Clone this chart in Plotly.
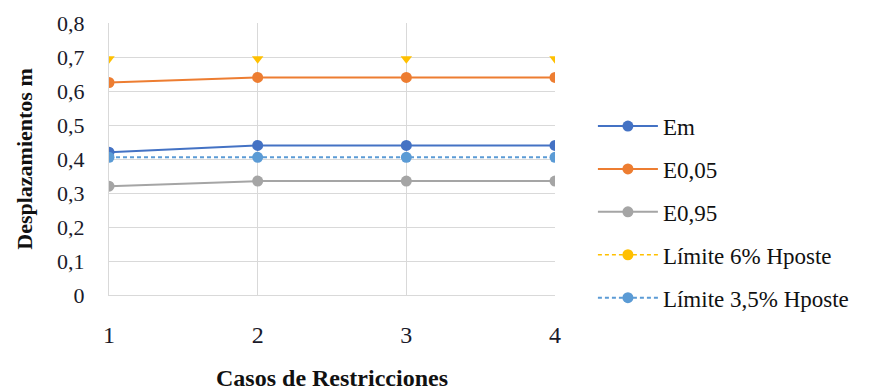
import plotly.graph_objects as go

# Restriction cases on the x axis
casos = [1, 2, 3, 4]

# Displacements (m) for each modulus of elasticity
em = [0.42, 0.44, 0.44, 0.44]
e005 = [0.625, 0.64, 0.64, 0.64]
e095 = [0.32, 0.335, 0.335, 0.335]

# Allowed limits as a percentage of post height
limite_6 = [0.695, 0.695, 0.695, 0.695]
limite_35 = [0.405, 0.405, 0.405, 0.405]

y_ticks = [0, 0.1, 0.2, 0.3, 0.4, 0.5, 0.6, 0.7, 0.8]
y_tick_text = ["0", "0,1", "0,2", "0,3", "0,4", "0,5", "0,6", "0,7", "0,8"]

FONT = "Liberation Serif"
GRID = "#d9d9d9"
TEXT = "#1a1a2a"

fig = go.Figure()


def series(name, y, color, dash="solid", group=None):
    fig.add_trace(go.Scatter(
        x=casos, y=y, name=name, mode="lines+markers",
        line=dict(color=color, width=2, dash=dash),
        marker=dict(color=color, size=11, symbol="circle"),
        legendgroup=group or name,
    ))


series("Em", em, "#4472C4")
series("E0,05", e005, "#ED7D31")
series("E0,95", e095, "#A5A5A5")

# 6% limit: only the lower edge of its markers shows on the plot
fig.add_trace(go.Scatter(
    x=casos, y=limite_6, mode="markers", showlegend=False,
    marker=dict(color="#FFC000", size=10, symbol="triangle-down"),
    legendgroup="l6", hoverinfo="y",
))
fig.add_trace(go.Scatter(
    x=[None], y=[None], name="Límite 6% Hposte", mode="lines+markers",
    line=dict(color="#FFC000", width=1.5, dash="4px,3px"),
    marker=dict(color="#FFC000", size=11), legendgroup="l6",
))

series("Límite 3,5% Hposte", limite_35, "#5B9BD5", dash="4px,3px")

fig.update_layout(
    width=885, height=392,
    margin=dict(l=109, r=330, t=23, b=97),
    paper_bgcolor="white", plot_bgcolor="white",
    font=dict(family=FONT, size=20, color=TEXT),
    showlegend=True,
    legend=dict(
        x=1.085, xanchor="left", y=0.70, yanchor="top",
        font=dict(family=FONT, size=23, color="#111111"),
        tracegroupgap=10, itemwidth=60, bgcolor="rgba(0,0,0,0)",
    ),
)

fig.update_xaxes(
    range=[1, 4], tickvals=casos, ticktext=[str(c) for c in casos],
    showgrid=True, gridcolor=GRID, gridwidth=1,
    showline=True, linecolor=GRID, linewidth=1,
    zeroline=False, ticks="", ticklabelstandoff=18, automargin=False,
    tickfont=dict(family=FONT, size=24, color=TEXT),
    title=dict(text="<b>Casos de Restricciones</b>", standoff=22,
               font=dict(family=FONT, size=24, color="#111111")),
)

fig.update_yaxes(
    range=[0, 0.8], tickvals=y_ticks, ticktext=y_tick_text,
    showgrid=True, gridcolor=GRID, gridwidth=1,
    showline=True, linecolor=GRID, linewidth=1,
    zeroline=False, ticks="", ticklabelstandoff=19, automargin=False,
    tickfont=dict(family=FONT, size=22, color=TEXT),
    title=dict(text="<b>Desplazamientos m</b>", standoff=18,
               font=dict(family=FONT, size=22, color="#111111")),
)

fig.write_html("out.html")
